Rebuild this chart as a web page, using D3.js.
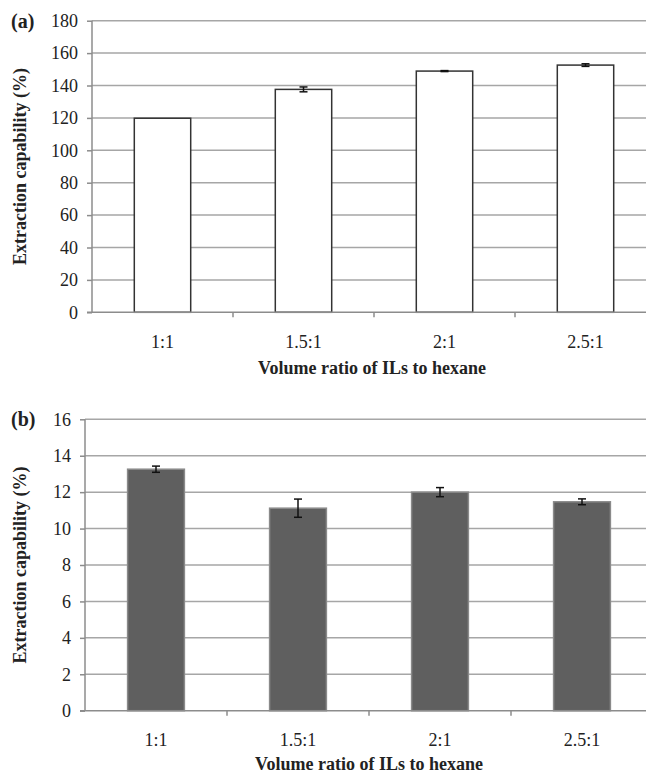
<!DOCTYPE html>
<html>
<head>
<meta charset="utf-8">
<style>
    body { margin: 0; background: #fff; }
    svg { display: block; }
    text { font-family: "Liberation Serif", "Times New Roman", serif; fill: #222; }
    .tick text { font-size: 18px; }
    .axis-title { font-size: 18px; font-weight: bold; }
    .panel-label { font-size: 20px; font-weight: bold; }
    .grid line { stroke: #a6a6a6; stroke-width: 1.5; }
</style>
</head>
<body>
<svg width="646" height="776"></svg>
<script src="https://d3js.org/d3.v7.min.js"></script>
<script>
    // values
    let ratios = ["1:1", "1.5:1", "2:1", "2.5:1"];
    let capA = [119.8, 137.6, 148.9, 152.6];
    let errA = [0, 1.5, 0.3, 0.8];
    let capB = [13.26, 11.12, 12.0, 11.47];
    let errB = [0.17, 0.5, 0.25, 0.16];
    let ticksA = [0, 20, 40, 60, 80, 100, 120, 140, 160, 180];
    let ticksB = [0, 2, 4, 6, 8, 10, 12, 14, 16];

    let svg = d3.select("svg");

    function panel(opt) {
        let g = svg.append("g");
        let x = d3.scaleBand()
            .domain(ratios)
            .range([opt.left, opt.left + opt.width])
            .paddingInner(0.6)
            .paddingOuter(0.3);
        let y = d3.scaleLinear()
            .domain([0, opt.max])
            .range([opt.bottom, opt.top]);

        // gridlines
        g.append("g").attr("class", "grid")
            .selectAll("line")
            .data(opt.ticks.filter(d => d > 0))
            .join("line")
            .attr("x1", opt.left)
            .attr("x2", 646)
            .attr("y1", d => y(d))
            .attr("y2", d => y(d));

        // y axis
        g.append("g")
            .attr("transform", `translate(${opt.left},0)`)
            .call(d3.axisLeft(y).tickValues(opt.ticks).tickSize(5).tickPadding(9).tickFormat(d3.format("d")))
            .call(a => a.selectAll("line, path").attr("stroke", "#8c8c8c").attr("stroke-width", 1.5))
            .call(a => a.select(".domain").attr("d", `M0,${opt.bottom}V${opt.top}`));

        // bars
        let vals = opt.vals.map((v, i) => ({ r: ratios[i], v: v, e: opt.errs[i] }));
        g.append("g")
            .selectAll("rect")
            .data(vals)
            .join("rect")
            .attr("x", d => x(d.r))
            .attr("width", x.bandwidth())
            .attr("y", d => y(d.v))
            .attr("height", d => y(0) - y(d.v))
            .attr("fill", opt.fill)
            .attr("stroke", opt.stroke)
            .attr("stroke-width", 1.5);

        // x axis
        g.append("g")
            .attr("transform", `translate(0,${opt.bottom})`)
            .call(d3.axisBottom(x).tickSize(0).tickPadding(23))
            .call(a => a.select(".domain").remove());
        g.append("line")
            .attr("x1", opt.left - 5).attr("x2", 646)
            .attr("y1", opt.bottom).attr("y2", opt.bottom)
            .attr("stroke", "#8c8c8c").attr("stroke-width", 1.5);
        g.append("g")
            .selectAll("line")
            .data(ratios.slice(1))
            .join("line")
            .attr("x1", d => x(d) - x.step() * x.paddingInner() / 2)
            .attr("x2", d => x(d) - x.step() * x.paddingInner() / 2)
            .attr("y1", opt.bottom)
            .attr("y2", opt.bottom + 5)
            .attr("stroke", "#8c8c8c").attr("stroke-width", 1.5);

        // error bars
        let eb = g.append("g").selectAll("g")
            .data(vals.filter(d => d.e > 0))
            .join("g")
            .attr("stroke", "#111").attr("stroke-width", 1.5);
        let cx = d => x(d.r) + x.bandwidth() / 2;
        eb.append("line")
            .attr("x1", cx).attr("x2", cx)
            .attr("y1", d => y(d.v - d.e)).attr("y2", d => y(d.v + d.e));
        eb.append("line")
            .attr("x1", d => cx(d) - 4).attr("x2", d => cx(d) + 4)
            .attr("y1", d => y(d.v + d.e)).attr("y2", d => y(d.v + d.e));
        eb.append("line")
            .attr("x1", d => cx(d) - 4).attr("x2", d => cx(d) + 4)
            .attr("y1", d => y(d.v - d.e)).attr("y2", d => y(d.v - d.e));

        // titles
        g.append("text")
            .attr("class", "axis-title")
            .attr("transform", `translate(${opt.ylabX},${(opt.top + opt.bottom) / 2}) rotate(-90)`)
            .attr("text-anchor", "middle")
            .text("Extraction capability (%)");
        g.append("text")
            .attr("class", "axis-title")
            .attr("x", opt.xTitleX)
            .attr("y", opt.xTitleY)
            .attr("text-anchor", "middle")
            .text("Volume ratio of ILs to hexane");
        g.append("text")
            .attr("class", "panel-label")
            .attr("x", 11)
            .attr("y", opt.top + 7)
            .text(opt.label);
    }

    panel({
        label: "(a)", vals: capA, errs: errA, ticks: ticksA, max: 180,
        left: 92, width: 564, top: 20.7, bottom: 312.3,
        fill: "#fff", stroke: "#333",
        ylabX: 26, xTitleX: 372, xTitleY: 374
    });

    panel({
        label: "(b)", vals: capB, errs: errB, ticks: ticksB, max: 16,
        left: 85, width: 568, top: 419.3, bottom: 710.7,
        fill: "#5f5f5f", stroke: "#8a8a8a",
        ylabX: 26, xTitleX: 369, xTitleY: 770
    });
</script>
</body>
</html>
